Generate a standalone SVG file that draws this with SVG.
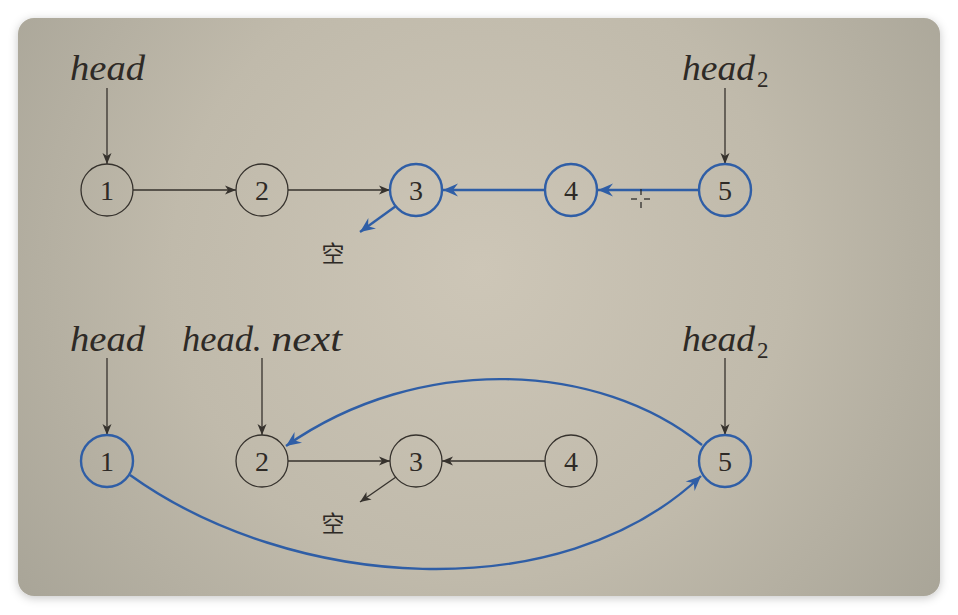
<svg xmlns="http://www.w3.org/2000/svg" width="958" height="615" viewBox="0 0 958 615">
<defs>
  <radialGradient id="bg" cx="480" cy="270" r="560" gradientUnits="userSpaceOnUse">
    <stop offset="0" stop-color="#cdc6b7"/>
    <stop offset="0.55" stop-color="#c0baab"/>
    <stop offset="1" stop-color="#a9a598"/>
  </radialGradient>
  <filter id="sh" x="-5%" y="-5%" width="110%" height="110%">
    <feDropShadow dx="0" dy="2" stdDeviation="5" flood-color="#000" flood-opacity="0.22"/>
  </filter>
  <marker id="ak" markerUnits="userSpaceOnUse" orient="auto" refX="0" refY="0" markerWidth="14" markerHeight="12" overflow="visible">
    <path d="M-11,-4.5 L0,0 L-11,4.5 L-8,0 z" fill="#36322d"/>
  </marker>
  <marker id="ab" markerUnits="userSpaceOnUse" orient="auto" refX="0" refY="0" markerWidth="18" markerHeight="14" overflow="visible">
    <path d="M-15,-6.5 L0,0 L-15,6.5 L-10,0 z" fill="#2f5ea6"/>
  </marker>
  <style>
    .nk circle{fill:none;stroke:#36322d;stroke-width:1.3}
    .nb circle{fill:none;stroke:#2f5ea6;stroke-width:2.4}
    .num{font-family:"Liberation Serif","DejaVu Serif",serif;font-size:28px;fill:#2e2a26;text-anchor:middle}
    .lab{font-family:"Liberation Serif","DejaVu Serif",serif;font-style:italic;font-size:35px;fill:#2e2a26}
    .sub{font-family:"Liberation Serif","DejaVu Serif",serif;font-style:normal;font-size:23px;fill:#2e2a26}
    .cn{font-family:"Noto Sans CJK SC","Noto Sans CJK JP",sans-serif;font-size:23px;fill:#2e2a26;text-anchor:middle}
    .ek{fill:none;stroke:#36322d;stroke-width:1.3;marker-end:url(#ak)}
    .eb{fill:none;stroke:#2f5ea6;stroke-width:2.4;marker-end:url(#ab)}
  </style>
</defs>
<rect x="0" y="0" width="958" height="615" fill="#ffffff"/>
<rect x="18" y="18" width="922" height="578" rx="16" ry="16" fill="url(#bg)" filter="url(#sh)"/>

<g id="labels">
  <text class="lab" x="70" y="80" textLength="75" lengthAdjust="spacingAndGlyphs">head</text>
  <text class="lab" x="682" y="80" textLength="73" lengthAdjust="spacingAndGlyphs">head</text>
  <text class="sub" x="757" y="87">2</text>
  <text class="cn" x="333" y="262">空</text>
  <text class="lab" x="70" y="351" textLength="75" lengthAdjust="spacingAndGlyphs">head</text>
  <text class="lab" y="351"><tspan x="182" textLength="80" lengthAdjust="spacingAndGlyphs">head.</tspan><tspan x="271" textLength="71" lengthAdjust="spacingAndGlyphs">next</tspan></text>
  <text class="lab" x="682" y="351" textLength="73" lengthAdjust="spacingAndGlyphs">head</text>
  <text class="sub" x="757" y="358">2</text>
  <text class="cn" x="333" y="532">空</text>
</g>

<g id="connectors">
  <line class="ek" x1="107" y1="88" x2="107" y2="164"/>
  <line class="ek" x1="725" y1="88" x2="725" y2="164"/>
  <line class="ek" x1="133" y1="190" x2="236" y2="190"/>
  <line class="ek" x1="288" y1="190" x2="390" y2="190"/>
  <line class="eb" x1="545" y1="190" x2="443" y2="190"/>
  <line class="eb" x1="699" y1="190" x2="598" y2="190"/>
  <line class="eb" x1="396" y1="206" x2="360" y2="232"/>

  <line class="ek" x1="107" y1="358" x2="107" y2="435"/>
  <line class="ek" x1="262" y1="358" x2="262" y2="435"/>
  <line class="ek" x1="725" y1="358" x2="725" y2="435"/>
  <line class="ek" x1="288" y1="461" x2="390" y2="461"/>
  <line class="ek" x1="545" y1="461" x2="442" y2="461"/>
  <line class="ek" x1="396" y1="477" x2="360" y2="502"/>
  <path class="eb" d="M702,445 C600,362 420,352 286,446"/>
  <path class="eb" d="M130,475 C290,590 560,610 701,476"/>
</g>

<g id="n1" class="nk"><circle cx="107" cy="190" r="26"/><text class="num" x="107" y="200">1</text></g>
<g id="n2" class="nk"><circle cx="262" cy="190" r="26"/><text class="num" x="262" y="200">2</text></g>
<g id="n3" class="nb"><circle cx="416" cy="190" r="26"/><text class="num" x="416" y="200">3</text></g>
<g id="n4" class="nb"><circle cx="571" cy="190" r="26"/><text class="num" x="571" y="200">4</text></g>
<g id="n5" class="nb"><circle cx="725" cy="190" r="26"/><text class="num" x="725" y="200">5</text></g>

<g id="m1" class="nb"><circle cx="107" cy="461" r="26"/><text class="num" x="107" y="471">1</text></g>
<g id="m2" class="nk"><circle cx="262" cy="461" r="26"/><text class="num" x="262" y="471">2</text></g>
<g id="m3" class="nk"><circle cx="416" cy="461" r="26"/><text class="num" x="416" y="471">3</text></g>
<g id="m4" class="nk"><circle cx="571" cy="461" r="26"/><text class="num" x="571" y="471">4</text></g>
<g id="m5" class="nb"><circle cx="725" cy="461" r="26"/><text class="num" x="725" y="471">5</text></g>

<g id="cursor" stroke="#222" stroke-width="1.2">
  <line x1="641" y1="189" x2="641" y2="195"/>
  <line x1="641" y1="202" x2="641" y2="208"/>
  <line x1="631" y1="199" x2="637" y2="199"/>
  <line x1="644" y1="199" x2="650" y2="199"/>
</g>
</svg>
